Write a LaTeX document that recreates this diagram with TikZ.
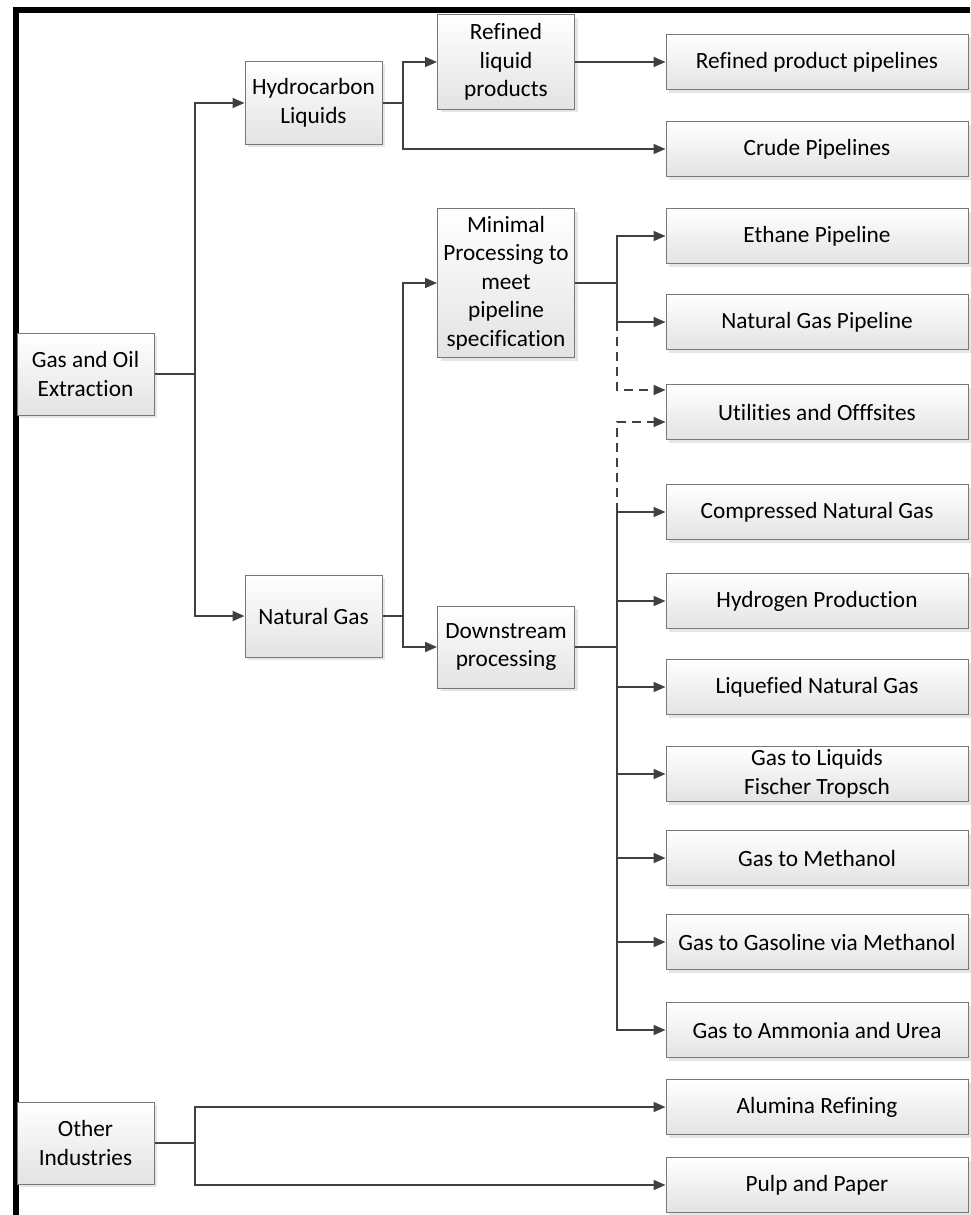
\documentclass[tikz,border=0pt]{standalone}
\usepackage{fontspec}
\setmainfont{Carlito}[Ligatures=NoCommon]
\usepackage{tikz}
\usetikzlibrary{
	positioning,
	shadows,
	arrows.meta
}
\definecolor{FlowLine}{RGB}{64,64,64}
\definecolor{BoxEdge}{RGB}{120,120,120}

\begin{document}
\begin{tikzpicture}[
	x=1pt,y=-1pt,
	font=\fontsize{23.3}{28.5}\selectfont,
	box/.style={
		draw=BoxEdge,
		line width=1pt,
		top color=white,
		bottom color=black!11,
		drop shadow={opacity=0.2,shadow xshift=3pt,shadow yshift=-3pt},
		align=center,
		inner sep=0pt
	},
	mainbox/.style={
		box,
		minimum width=137pt,
		minimum height=82pt
	},
	sidebox/.style={
		box,
		minimum width=302pt,
		minimum height=55pt
	},
	line/.style={
		FlowLine,
		line width=1.8pt
	},
	link/.style={
		line,
		-{Triangle[length=12pt,width=10pt]}
	},
	dashlink/.style={
		link,
		dash pattern=on 9pt off 6pt
	}
	]
	
	\useasboundingbox (0,0) rectangle (970,1215);
	
	% frame
	\draw[black,line width=6pt] (16,1215) -- (16,10) -- (970,10);
	
	% sources
	\node[mainbox] (GOE) at (85.5,374) {Gas and Oil\\Extraction};
	\node[mainbox] (OTH) at (85.5,1143) {Other\\Industries};
	
	% first split
	\node[mainbox] (HCL) at (313.5,103) {Hydrocarbon\\Liquids};
	\node[mainbox] (NGS) at (313.5,616) {Natural Gas};
	
	% processing
	\node[
	mainbox,
	minimum height=94pt
	]
	(RLP) at (506,62)
	{Refined\\liquid\\products};
	
	\node[
	mainbox,
	minimum height=149pt
	]
	(MIN) at (506,283)
	{Minimal\\Processing to\\meet\\pipeline\\specification};
	
	\node[mainbox] (DSP) at (506,647) {Downstream\\processing};
	
	% end uses
	\node[sidebox] (RPP) at (817,62) {Refined product pipelines};
	\node[sidebox] (CRP) at (817,149) {Crude Pipelines};
	\node[sidebox] (ETH) at (817,236) {Ethane Pipeline};
	\node[sidebox] (NGP) at (817,322) {Natural Gas Pipeline};
	\node[sidebox] (UTO) at (817,412) {Utilities and Offfsites};
	\node[sidebox] (CNG) at (817,512) {Compressed Natural Gas};
	\node[sidebox] (HYD) at (817,601) {Hydrogen Production};
	\node[sidebox] (LNG) at (817,687) {Liquefied Natural Gas};
	\node[sidebox] (GTL) at (817,774) {Gas to Liquids\\Fischer Tropsch};
	\node[sidebox] (MTH) at (817,858) {Gas to Methanol};
	\node[sidebox] (GSL) at (817,942) {Gas to Gasoline via Methanol};
	\node[sidebox] (AMU) at (817,1030) {Gas to Ammonia and Urea};
	\node[sidebox] (ALU) at (817,1107) {Alumina Refining};
	\node[sidebox] (PLP) at (817,1185) {Pulp and Paper};
	
	% junctions
	\coordinate (J1) at (195,374);
	\coordinate (J2) at (403,103);
	\coordinate (J3) at (403,616);
	\coordinate (J4) at (617,283);
	\coordinate (J5) at (617,647);
	\coordinate (J6) at (195,1143);
	
	% connectors
	\draw[line] (GOE) -- (J1);
	\draw[link] (J1) |- (HCL);
	\draw[link] (J1) |- (NGS);
	
	\draw[line] (HCL) -- (J2);
	\draw[link] (J2) |- (RLP);
	\draw[link] (J2) |- (CRP);
	\draw[link] (RLP) -- (RPP);
	
	\draw[line] (NGS) -- (J3);
	\draw[link] (J3) |- (MIN);
	\draw[link] (J3) |- (DSP);
	
	\draw[line] (MIN) -- (J4);
	\draw[link] (J4) |- (ETH);
	\draw[link] (J4) |- (NGP);
	\draw[dashlink] (J4 |- NGP) |- ([yshift=22pt]UTO.west);
	
	\draw[line] (DSP) -- (J5);
	\foreach \dst in {CNG,HYD,LNG,GTL,MTH,GSL,AMU}
	\draw[link] (J5) |- (\dst);
	\draw[dashlink] (J5 |- CNG) |- ([yshift=-10pt]UTO.west);
	
	\draw[line] (OTH) -- (J6);
	\draw[link] (J6) |- (ALU);
	\draw[link] (J6) |- (PLP);
	
\end{tikzpicture}
\end{document}
